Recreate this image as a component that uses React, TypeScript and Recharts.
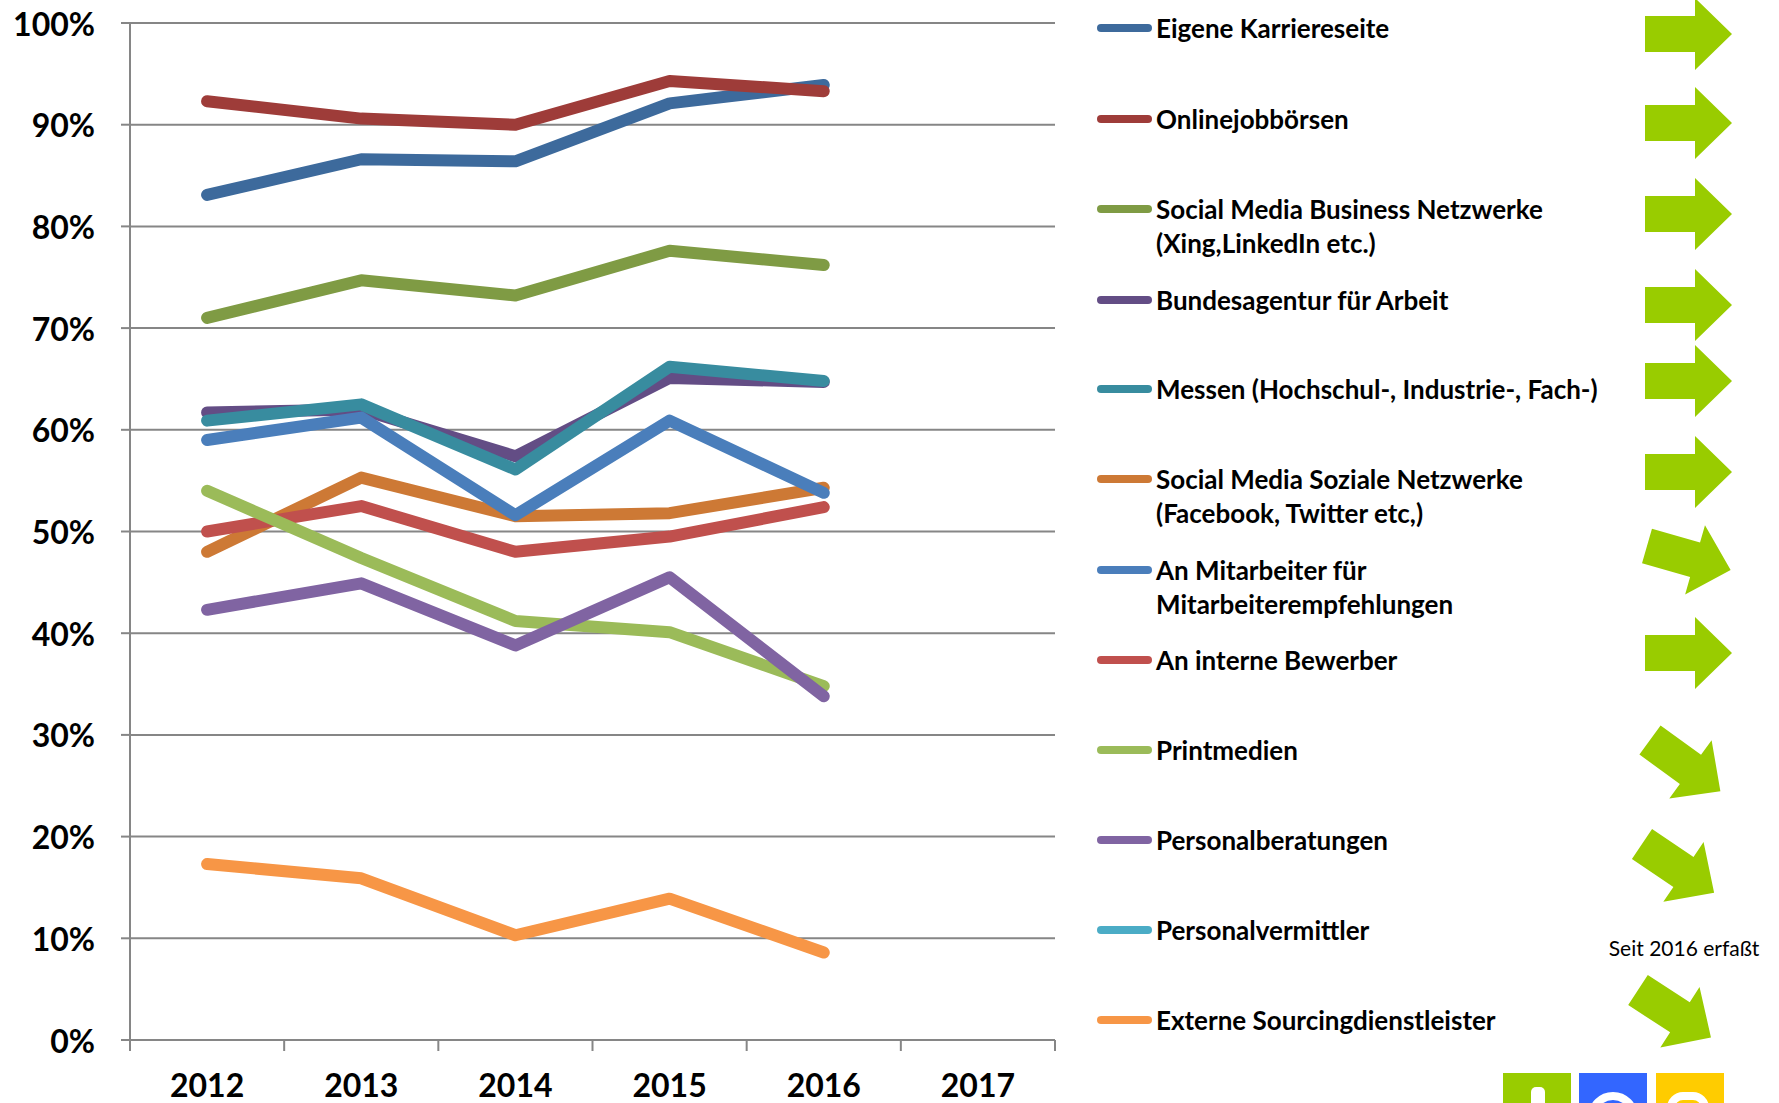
import React from "react";
import {
  LineChart,
  Line,
  XAxis,
  YAxis,
  CartesianGrid,
} from "recharts";

// years on the x axis (2017 has no values yet)
const YEARS = ["2012", "2013", "2014", "2015", "2016", "2017"];
const Y_TICKS = [0, 10, 20, 30, 40, 50, 60, 70, 80, 90, 100];

// shares in percent, one array per recruiting channel
const karriereseite = [83.1, 86.6, 86.4, 92.1, 93.9, null];
const onlinejobboersen = [92.3, 90.6, 90.0, 94.3, 93.3, null];
const businessNetzwerke = [71.0, 74.7, 73.2, 77.6, 76.2, null];
const bundesagentur = [61.7, 62.0, 57.4, 65.1, 64.7, null];
const messen = [60.9, 62.5, 56.1, 66.2, 64.8, null];
const sozialeNetzwerke = [48.0, 55.3, 51.5, 51.8, 54.3, null];
const mitarbeiter = [59.0, 61.2, 51.6, 60.9, 53.8, null];
const interneBewerber = [50.0, 52.5, 48.0, 49.5, 52.4, null];
const printmedien = [54.0, 47.4, 41.2, 40.1, 34.8, null];
const personalberatungen = [42.3, 44.9, 38.8, 45.5, 33.8, null];
const personalvermittler = [null, null, null, null, null, null];
const externeSourcing = [17.3, 15.9, 10.3, 13.9, 8.6, null];

const SERIES = [
  { key: "karriere", label: ["Eigene Karriereseite"], values: karriereseite, color: "#3d6a9c" },
  { key: "online", label: ["Onlinejobbörsen"], values: onlinejobboersen, color: "#9e3c39" },
  { key: "business", label: ["Social Media Business Netzwerke", "(Xing,LinkedIn etc.)"], values: businessNetzwerke, color: "#7f9b44" },
  { key: "ba", label: ["Bundesagentur für Arbeit"], values: bundesagentur, color: "#634d85" },
  { key: "messen", label: ["Messen (Hochschul-, Industrie-, Fach-)"], values: messen, color: "#388c9f" },
  { key: "sozial", label: ["Social Media Soziale Netzwerke", "(Facebook, Twitter etc,)"], values: sozialeNetzwerke, color: "#cd7935" },
  { key: "mitarbeiter", label: ["An Mitarbeiter für", "Mitarbeiterempfehlungen"], values: mitarbeiter, color: "#4a7ebb" },
  { key: "intern", label: ["An interne Bewerber"], values: interneBewerber, color: "#c0504d" },
  { key: "print", label: ["Printmedien"], values: printmedien, color: "#9bbb59" },
  { key: "beratung", label: ["Personalberatungen"], values: personalberatungen, color: "#8064a2" },
  { key: "vermittler", label: ["Personalvermittler"], values: personalvermittler, color: "#4bacc6" },
  { key: "extern", label: ["Externe Sourcingdienstleister"], values: externeSourcing, color: "#f79646" },
];

// trend arrows next to the legend: left-middle point and rotation
const ARROWS = [
  { x: 1645, y: 34, angle: 0 },
  { x: 1645, y: 123, angle: 0 },
  { x: 1645, y: 214, angle: 0 },
  { x: 1645, y: 305, angle: 0 },
  { x: 1645, y: 381, angle: 0 },
  { x: 1645, y: 472, angle: 0 },
  { x: 1647, y: 546, angle: 16 },
  { x: 1645, y: 653, angle: 0 },
  { x: 1650, y: 740, angle: 36 },
  { x: 1642, y: 844, angle: 34 },
  null,
  { x: 1638, y: 990, angle: 33 },
];

const data = YEARS.map((year, i) => {
  const row: Record<string, any> = { x: i + 0.5, year };
  SERIES.forEach((s) => {
    row[s.key] = s.values[i];
  });
  return row;
});

const FONT = "Lato, 'Open Sans', sans-serif";
const CHART_W = 1060;
const CHART_H = 1103;
const Y_AXIS_W = 130;
const MARGIN = { top: 23, right: 5, bottom: 0, left: 0 };
const PLOT_W = CHART_W - MARGIN.left - MARGIN.right - Y_AXIS_W;
const HALF = PLOT_W / YEARS.length / 2;

const YTick = (p: any) => (
  <text
    x={p.x}
    y={p.y}
    textAnchor="end"
    dominantBaseline="central"
    fontFamily={FONT}
    fontWeight={700}
    fontSize={32}
    fill="#000"
  >
    {p.payload.value}%
  </text>
);

const XTick = (p: any) => {
  const label = YEARS[p.payload.value];
  if (!label) return null;
  return (
    <text
      x={p.x + HALF}
      y={p.y + 31}
      textAnchor="middle"
      dominantBaseline="central"
      fontFamily={FONT}
      fontWeight={700}
      fontSize={32}
      fill="#000"
    >
      {label}
    </text>
  );
};

const LEGEND_ROWS = [28, 119, 209, 300, 389, 479, 570, 660, 750, 840, 930, 1020];

function Arrow({ x, y, angle }: { x: number; y: number; angle: number }) {
  const pts = "0,-18 50,-18 50,-36 87,0 50,36 50,18 0,18";
  return (
    <polygon
      points={pts}
      fill="#99cc00"
      transform={`translate(${x} ${y}) rotate(${angle})`}
    />
  );
}

export default function App() {
  return (
    <div
      style={{
        position: "absolute",
        left: 0,
        top: 0,
        width: 1779,
        height: 1103,
        background: "#fff",
        overflow: "hidden",
        fontFamily: FONT,
      }}
    >
      <LineChart width={CHART_W} height={CHART_H} data={data} margin={MARGIN}>
        <CartesianGrid vertical={false} stroke="#868686" strokeWidth={2} />
        <XAxis
          type="number"
          dataKey="x"
          domain={[0, 6]}
          ticks={[0, 1, 2, 3, 4, 5, 6]}
          interval={0}
          height={63}
          tickSize={11}
          stroke="#868686"
          strokeWidth={2}
          tick={<XTick />}
        />
        <YAxis
          domain={[0, 100]}
          ticks={Y_TICKS}
          interval={0}
          width={Y_AXIS_W}
          tickSize={9}
          tickMargin={26}
          stroke="#868686"
          strokeWidth={2}
          tick={<YTick />}
        />
        {SERIES.map((s) => (
          <Line
            key={s.key}
            type="linear"
            dataKey={s.key}
            stroke={s.color}
            strokeWidth={12}
            strokeLinecap="round"
            strokeLinejoin="round"
            dot={false}
            activeDot={false}
            isAnimationActive={false}
          />
        ))}
      </LineChart>

      {SERIES.map((s, i) => (
        <div
          key={s.key}
          style={{
            position: "absolute",
            left: 1097,
            top: LEGEND_ROWS[i] - 17,
            display: "flex",
            alignItems: "flex-start",
          }}
        >
          <div
            style={{
              width: 55,
              height: 8,
              borderRadius: 4,
              background: s.color,
              marginTop: 13,
              marginRight: 4,
            }}
          />
          <div
            style={{
              fontWeight: 700,
              fontSize: 26,
              lineHeight: "34px",
              color: "#000",
              whiteSpace: "nowrap",
            }}
          >
            {s.label.map((l) => (
              <div key={l}>{l}</div>
            ))}
          </div>
        </div>
      ))}

      <svg
        width={1779}
        height={1103}
        style={{ position: "absolute", left: 0, top: 0, pointerEvents: "none" }}
      >
        {ARROWS.map((a, i) => (a ? <Arrow key={i} {...a} /> : null))}
        <text
          x={1684}
          y={947}
          textAnchor="middle"
          dominantBaseline="central"
          fontFamily={FONT}
          fontSize={21}
          fill="#000"
        >
          Seit 2016 erfaßt
        </text>
        <rect x={1503} y={1073} width={68} height={40} fill="#99cc00" />
        <rect x={1579} y={1073} width={68} height={40} fill="#3366ff" />
        <rect x={1656} y={1073} width={68} height={40} fill="#ffcc00" />
        <rect x={1531} y={1087} width={14} height={30} rx={5} fill="#fff" />
        <circle cx={1613} cy={1117} r={21} fill="none" stroke="#fff" strokeWidth={8} />
        <rect x={1671} y={1096} width={34} height={40} rx={12} fill="none" stroke="#fff" strokeWidth={8} />
      </svg>
    </div>
  );
}
